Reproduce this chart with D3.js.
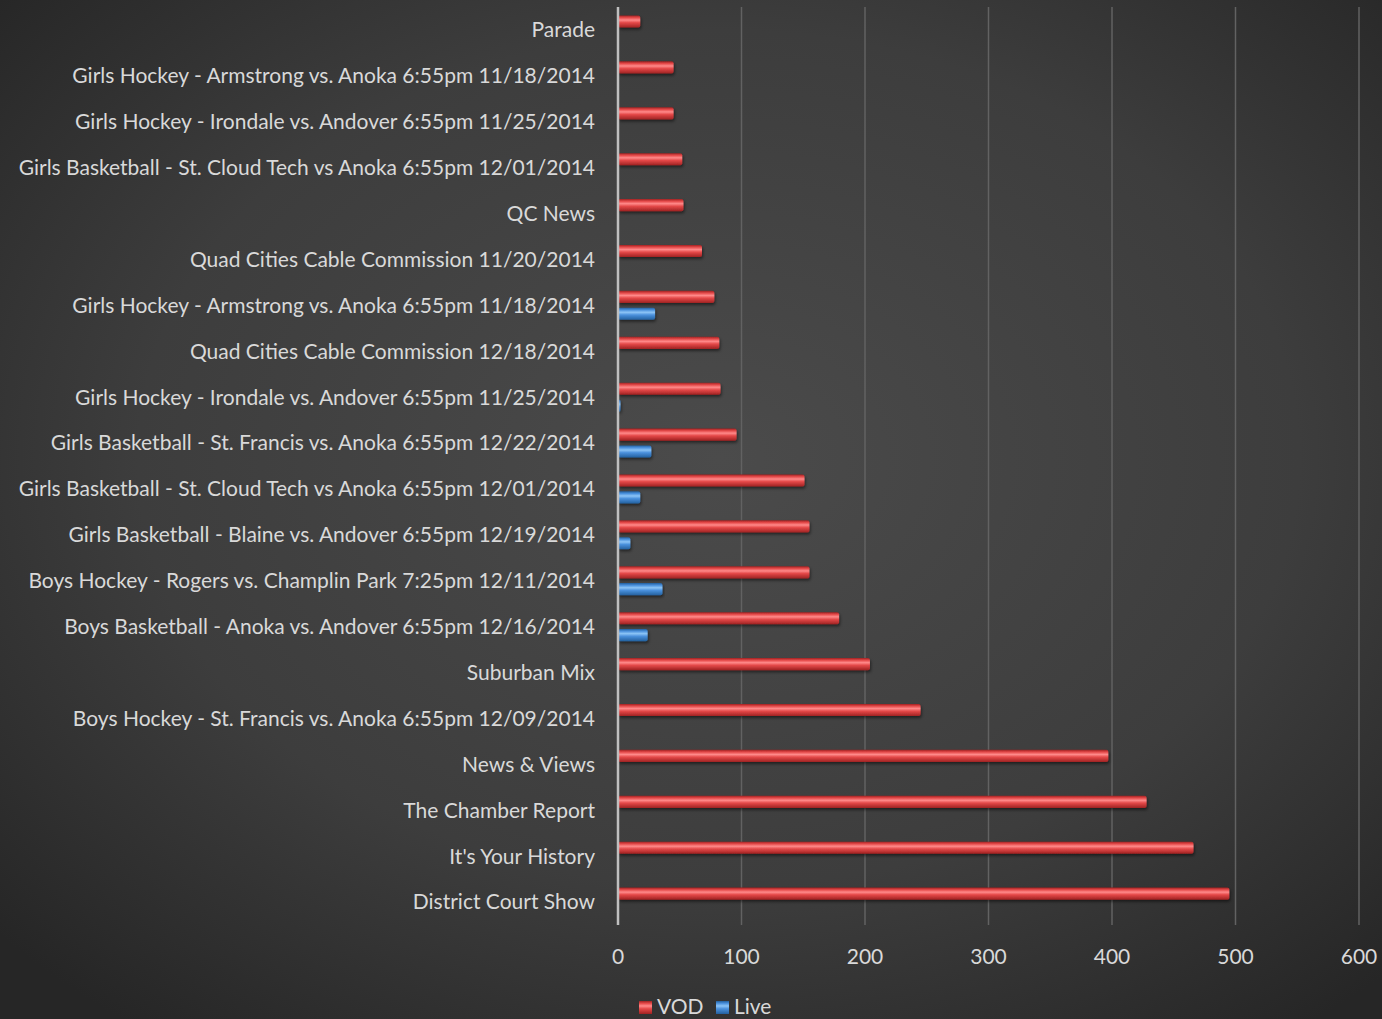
<!DOCTYPE html>
<html>
<head>
<meta charset="utf-8">
<script src="https://cdn.jsdelivr.net/npm/d3@7"></script>
<style>
  body { margin: 0; background: #2b2b2b; }
  svg { display: block; }
</style>
</head>
<body>
<div id="chart"></div>
<script>
const categories = [
    "Parade",
    "Girls Hockey - Armstrong vs. Anoka 6:55pm 11/18/2014",
    "Girls Hockey - Irondale vs. Andover 6:55pm 11/25/2014",
    "Girls Basketball - St. Cloud Tech vs Anoka 6:55pm 12/01/2014",
    "QC News",
    "Quad Cities Cable Commission 11/20/2014",
    "Girls Hockey - Armstrong vs. Anoka 6:55pm 11/18/2014",
    "Quad Cities Cable Commission 12/18/2014",
    "Girls Hockey - Irondale vs. Andover 6:55pm 11/25/2014",
    "Girls Basketball - St. Francis vs. Anoka 6:55pm 12/22/2014",
    "Girls Basketball - St. Cloud Tech vs Anoka 6:55pm 12/01/2014",
    "Girls Basketball - Blaine vs. Andover 6:55pm 12/19/2014",
    "Boys Hockey - Rogers vs. Champlin Park 7:25pm 12/11/2014",
    "Boys Basketball - Anoka vs. Andover 6:55pm 12/16/2014",
    "Suburban Mix",
    "Boys Hockey - St. Francis vs. Anoka 6:55pm 12/09/2014",
    "News & Views",
    "The Chamber Report",
    "It's Your History",
    "District Court Show"
];
const vodValues = [18, 45, 45, 52, 53, 68, 78, 82, 83, 96, 151, 155, 155, 179, 204, 245, 397, 428, 466, 495];
const liveValues = [0, 0, 0, 0, 0, 0, 30, 0, 2, 27, 18, 10, 36, 24, 0, 0, 0, 0, 0, 0];
const xTicks = [0, 100, 200, 300, 400, 500, 600];
const seriesNames = ["VOD", "Live"];

const width = 1382, height = 1019;
const margin = { top: 7, right: 23, bottom: 94, left: 618 };
const textColor = "#d9d9d9";
const fontFamily = "Lato, 'Open Sans', sans-serif";

const svg = d3.select("#chart").append("svg")
    .attr("width", width)
    .attr("height", height);

const defs = svg.append("defs");
const bg = defs.append("radialGradient")
    .attr("id", "bg")
    .attr("cx", "52%").attr("cy", "45%").attr("r", "70%");
bg.append("stop").attr("offset", "0%").attr("stop-color", "#4b4b4b");
bg.append("stop").attr("offset", "60%").attr("stop-color", "#3d3d3d");
bg.append("stop").attr("offset", "100%").attr("stop-color", "#262626");

function barGradient(id, light, mid, dark) {
    const g = defs.append("linearGradient")
        .attr("id", id)
        .attr("x1", 0).attr("y1", 0).attr("x2", 0).attr("y2", 1);
    g.append("stop").attr("offset", "0%").attr("stop-color", dark);
    g.append("stop").attr("offset", "18%").attr("stop-color", mid);
    g.append("stop").attr("offset", "38%").attr("stop-color", light);
    g.append("stop").attr("offset", "60%").attr("stop-color", mid);
    g.append("stop").attr("offset", "100%").attr("stop-color", dark);
}
barGradient("gradVod", "#ff8a8a", "#e44848", "#9e2222");
barGradient("gradLive", "#8cc4f6", "#4a90dc", "#23609e");

const shadow = defs.append("filter").attr("id", "shadow")
    .attr("x", "-5%").attr("y", "-30%").attr("width", "110%").attr("height", "180%");
shadow.append("feDropShadow")
    .attr("dx", 1).attr("dy", 2).attr("stdDeviation", 1.5)
    .attr("flood-color", "#000").attr("flood-opacity", 0.5);

svg.append("rect")
    .attr("width", width).attr("height", height)
    .attr("fill", "url(#bg)");

const x = d3.scaleLinear()
    .domain([0, 600])
    .range([margin.left, width - margin.right]);

const y = d3.scaleBand()
    .domain(d3.range(categories.length))
    .range([margin.top, height - margin.bottom]);

const sub = d3.scaleBand()
    .domain(seriesNames)
    .range([0, y.bandwidth()])
    .paddingInner(0.28)
    .paddingOuter(0.5);

// gridlines
svg.append("g")
    .selectAll("line")
    .data(xTicks.slice(1))
    .join("line")
    .attr("x1", d => x(d)).attr("x2", d => x(d))
    .attr("y1", margin.top).attr("y2", height - margin.bottom)
    .attr("stroke", "#626262")
    .attr("stroke-width", 1.5);

// bars
const series = [
    { name: "VOD", values: vodValues, fill: "url(#gradVod)" },
    { name: "Live", values: liveValues, fill: "url(#gradLive)" }
];

series.forEach(s => {
    svg.append("g")
        .attr("filter", "url(#shadow)")
        .selectAll("rect")
        .data(s.values.map((v, i) => ({ v, i })).filter(d => d.v > 0))
        .join("rect")
        .attr("x", x(0))
        .attr("y", d => y(d.i) + sub(s.name))
        .attr("width", d => x(d.v) - x(0))
        .attr("height", sub.bandwidth())
        .attr("rx", 2)
        .attr("fill", s.fill);
});

// zero axis line
svg.append("line")
    .attr("x1", x(0)).attr("x2", x(0))
    .attr("y1", margin.top).attr("y2", height - margin.bottom)
    .attr("stroke", "#bfbfbf")
    .attr("stroke-width", 2.5);

// category labels
svg.append("g")
    .selectAll("text")
    .data(categories)
    .join("text")
    .attr("x", x(0) - 23)
    .attr("y", (d, i) => y(i) + y.bandwidth() / 2)
    .attr("dy", "0.35em")
    .attr("text-anchor", "end")
    .attr("fill", textColor)
    .style("font-family", fontFamily)
    .style("font-size", "21px")
    .text(d => d);

// x tick labels
svg.append("g")
    .selectAll("text")
    .data(xTicks)
    .join("text")
    .attr("x", d => x(d))
    .attr("y", 957)
    .attr("dy", "0.35em")
    .attr("text-anchor", "middle")
    .attr("fill", textColor)
    .style("font-family", fontFamily)
    .style("font-size", "21px")
    .text(d => d);

// legend
const legend = svg.append("g").attr("transform", "translate(639,1007)");
const legendItems = [
    { name: "VOD", fill: "url(#gradVod)", offset: 0 },
    { name: "Live", fill: "url(#gradLive)", offset: 77 }
];
const li = legend.selectAll("g")
    .data(legendItems)
    .join("g")
    .attr("transform", d => `translate(${d.offset},0)`);
li.append("rect")
    .attr("x", 0).attr("y", -6)
    .attr("width", 13).attr("height", 13)
    .attr("fill", d => d.fill);
li.append("text")
    .attr("x", 18)
    .attr("dy", "0.35em")
    .attr("fill", textColor)
    .style("font-family", fontFamily)
    .style("font-size", "21px")
    .text(d => d.name);
</script>
</body>
</html>
